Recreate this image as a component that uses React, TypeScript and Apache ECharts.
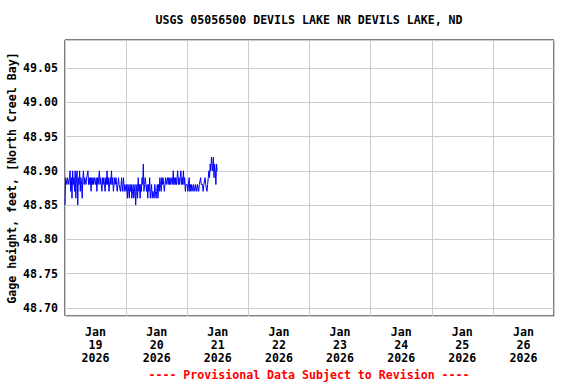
import React, { useEffect, useRef } from "react";
import * as echarts from "echarts";

const TITLE = "USGS 05056500 DEVILS LAKE NR DEVILS LAKE, ND";
const Y_NAME = "Gage height, feet, [North Creel Bay]";
const FOOTER = "---- Provisional Data Subject to Revision ----";

const DAY_LABELS = ["Jan\n19\n2026", "Jan\n20\n2026", "Jan\n21\n2026", "Jan\n22\n2026", "Jan\n23\n2026", "Jan\n24\n2026", "Jan\n25\n2026", "Jan\n26\n2026"];

// 15-minute gage height readings starting Jan 19 2026 00:00
const JAN19 = [
  48.85, 48.89, 48.89, 48.88, 48.89, 48.89, 48.88, 48.89,
  48.90, 48.87, 48.89, 48.86, 48.90, 48.88, 48.89, 48.87,
  48.90, 48.86, 48.89, 48.90, 48.85, 48.89, 48.88, 48.90,
  48.87, 48.89, 48.88, 48.86, 48.89, 48.90, 48.88, 48.89,
  48.89, 48.88, 48.89, 48.89, 48.90, 48.88, 48.89, 48.88,
  48.89, 48.87, 48.89, 48.88, 48.89, 48.88, 48.89, 48.89,
  48.88, 48.89, 48.87, 48.89, 48.88, 48.89, 48.90, 48.88,
  48.89, 48.88, 48.87, 48.89, 48.88, 48.89, 48.88, 48.87,
  48.89, 48.88, 48.90, 48.88, 48.89, 48.87, 48.88, 48.89,
  48.88, 48.90, 48.88, 48.89, 48.87, 48.88, 48.89, 48.88,
  48.89, 48.88, 48.87, 48.88, 48.89, 48.88, 48.88, 48.87,
  48.88, 48.89, 48.87, 48.88, 48.89, 48.87, 48.88, 48.88,
];
const JAN20 = [
  48.87, 48.88, 48.86, 48.88, 48.87, 48.86, 48.88, 48.87,
  48.88, 48.86, 48.87, 48.88, 48.86, 48.87, 48.88, 48.85,
  48.87, 48.88, 48.86, 48.89, 48.87, 48.88, 48.86, 48.88,
  48.87, 48.89, 48.88, 48.91, 48.87, 48.88, 48.89, 48.88,
  48.87, 48.88, 48.86, 48.88, 48.87, 48.89, 48.86, 48.87,
  48.88, 48.86, 48.87, 48.87, 48.86, 48.88, 48.87, 48.86,
  48.87, 48.88, 48.86, 48.88, 48.87, 48.89, 48.88, 48.87,
  48.89, 48.88, 48.89, 48.88, 48.87, 48.88, 48.89, 48.88,
  48.88, 48.89, 48.88, 48.89, 48.88, 48.89, 48.88, 48.88,
  48.89, 48.88, 48.90, 48.88, 48.89, 48.88, 48.89, 48.88,
  48.89, 48.90, 48.88, 48.89, 48.88, 48.89, 48.90, 48.88,
  48.89, 48.88, 48.90, 48.88, 48.89, 48.87, 48.88, 48.88,
];
const JAN21 = [
  48.88, 48.87, 48.88, 48.89, 48.87, 48.88, 48.87, 48.88,
  48.88, 48.87, 48.88, 48.88, 48.87, 48.88, 48.88, 48.87,
  48.88, 48.88, 48.87, 48.88, 48.88, 48.89, 48.88, 48.88,
  48.88, 48.87, 48.88, 48.88, 48.89, 48.88, 48.88, 48.87,
  48.88, 48.89, 48.90, 48.89, 48.91, 48.90, 48.92, 48.91,
  48.90, 48.92, 48.89, 48.91, 48.90, 48.88, 48.91, 48.90,
  48.90,
];

const READINGS = [...JAN19, ...JAN20, ...JAN21];
const STEP_HOURS = 0.25;

const FONT = "'DejaVu Sans Mono', 'Liberation Mono', monospace";

export default function App() {
  const ref = useRef<HTMLDivElement>(null);
  useEffect(() => {
    document.body.style.margin = "0";
    if (!ref.current) return;
    const chart = echarts.init(ref.current, null, { renderer: "svg" });
    const data = READINGS.map((v, i) => [i * STEP_HOURS, v]);
    chart.setOption({
      animation: false,
      backgroundColor: "#ffffff",
      grid: {
        left: 65,
        right: 22,
        top: 40,
        bottom: 68,
        containLabel: false,
        outerBoundsMode: "none",
        show: true,
        borderColor: "#000000",
        borderWidth: 1,
        backgroundColor: "transparent",
      },
      xAxis: [
        {
          type: "value",
          min: 0,
          max: 192,
          interval: 24,
          axisLine: { show: false },
          axisTick: { show: false },
          axisLabel: { show: false },
          splitLine: { show: true, lineStyle: { color: "#cccccc", width: 1 } },
        },
        {
          type: "category",
          data: DAY_LABELS,
          boundaryGap: true,
          position: "bottom",
          axisLine: { show: false },
          axisTick: { show: false },
          splitLine: { show: false },
          axisLabel: {
            interval: 0,
            margin: 9,
            color: "#000000",
            fontFamily: FONT,
            fontWeight: "bold",
            fontSize: 11.6,
            lineHeight: 13,
          },
        },
      ],
      yAxis: {
        type: "value",
        min: 48.688,
        max: 49.091,
        splitNumber: 8,
        minInterval: 0.05,
        maxInterval: 0.05,
        name: Y_NAME,
        nameLocation: "middle",
        nameGap: 47,
        nameMoveOverlap: false,
        nameTextStyle: {
          color: "#000000",
          fontFamily: FONT,
          fontWeight: "bold",
          fontSize: 11.6,
        },
        axisLine: { show: false },
        axisTick: { show: false },
        axisLabel: {
          showMinLabel: false,
          showMaxLabel: false,
          margin: 7,
          color: "#000000",
          fontFamily: FONT,
          fontWeight: "bold",
          fontSize: 11.6,
          formatter: (v: number) => v.toFixed(2),
        },
        splitLine: { show: true, lineStyle: { color: "#cccccc", width: 1 } },
      },
      series: [
        {
          type: "line",
          xAxisIndex: 0,
          data,
          showSymbol: false,
          symbol: "none",
          lineStyle: { color: "#0000ff", width: 1 },
        },
      ],
      graphic: [
        {
          type: "text",
          x: 309,
          y: 20,
          style: {
            text: TITLE,
            fill: "#000000",
            font: `bold 11.6px ${FONT}`,
            align: "center",
            verticalAlign: "middle",
          },
        },
        {
          type: "text",
          x: 309,
          y: 375,
          style: {
            text: FOOTER,
            fill: "#ff0000",
            font: `bold 11.6px ${FONT}`,
            align: "center",
            verticalAlign: "middle",
          },
        },
      ],
    });
    return () => chart.dispose();
  }, []);
  return <div ref={ref} style={{ width: 576, height: 384 }} />;
}
